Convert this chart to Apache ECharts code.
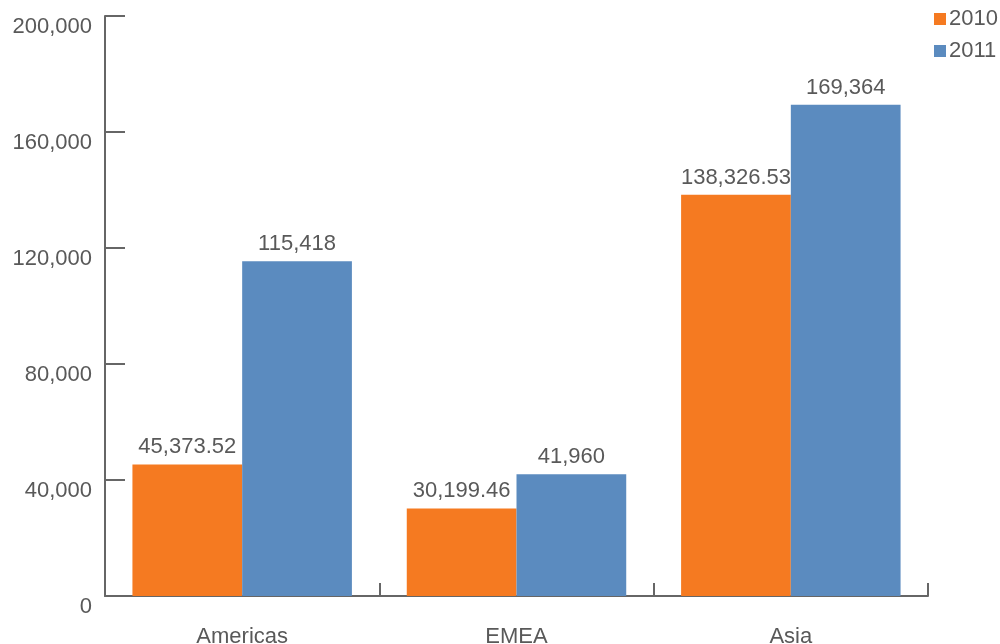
<!DOCTYPE html>
<html>
<head>
<meta charset="utf-8">
<script src="https://cdn.jsdelivr.net/npm/echarts@6/dist/echarts.min.js"></script>
<style>
  html, body { margin: 0; padding: 0; background: #fff; }
  #chart { width: 1000px; height: 644px; }
</style>
</head>
<body>
<div id="chart"></div>
<script>
// Regional totals by year
const categories = ['Americas', 'EMEA', 'Asia'];
const seriesNames = ['2010', '2011'];
const values2010 = [45373.52, 30199.46, 138326.53];
const values2011 = [115418, 41960, 169364];
const yTicks = { min: 0, max: 200000, interval: 40000 };

const textColor = '#595959';
const axisColor = '#666666';
const fontFamily = '"Liberation Sans", Arial, sans-serif';

const fmt = v => v.toLocaleString('en-US', { maximumFractionDigits: 2 });

const labelStyle = {
  show: true,
  position: 'top',
  distance: 6,
  color: textColor,
  fontSize: 22,
  fontFamily: fontFamily,
  formatter: p => fmt(p.value)
};

const chart = echarts.init(document.getElementById('chart'), null, { renderer: 'canvas' });
chart.setOption({
  animation: false,
  textStyle: { fontFamily: fontFamily },
  grid: { left: 105, right: 72, top: 16, bottom: 48, containLabel: false, outerBoundsMode: 'none' },
  legend: {
    data: seriesNames,
    orient: 'vertical',
    left: 929,
    top: 3,
    itemWidth: 12,
    itemHeight: 12,
    itemGap: 10,
    icon: 'rect',
    textStyle: { color: textColor, fontSize: 22, fontFamily: fontFamily, padding: [0, 0, 0, -2] }
  },
  xAxis: {
    type: 'category',
    data: categories,
    axisLine: { lineStyle: { color: axisColor, width: 2 } },
    axisTick: { show: true, inside: true, length: 13, alignWithLabel: false, lineStyle: { color: axisColor, width: 2 } },
    axisLabel: { color: textColor, fontSize: 22, margin: 30, fontFamily: fontFamily },
    splitLine: { show: false }
  },
  yAxis: {
    type: 'value',
    min: yTicks.min,
    max: yTicks.max,
    interval: yTicks.interval,
    axisLine: { show: true, lineStyle: { color: axisColor, width: 2 } },
    axisTick: { show: true, inside: true, length: 20, lineStyle: { color: axisColor, width: 2 } },
    axisLabel: {
      color: textColor,
      fontSize: 22,
      margin: 13,
      fontFamily: fontFamily,
      verticalAlign: 'top',
      formatter: v => fmt(v)
    },
    splitLine: { show: false }
  },
  series: [
    {
      name: seriesNames[0],
      type: 'bar',
      data: values2010,
      itemStyle: { color: '#F57A21' },
      barGap: '0%',
      barCategoryGap: '20%',
      label: labelStyle
    },
    {
      name: seriesNames[1],
      type: 'bar',
      data: values2011,
      itemStyle: { color: '#5B8BBF' },
      barGap: '0%',
      barCategoryGap: '20%',
      label: labelStyle
    }
  ]
});
</script>
</body>
</html>
